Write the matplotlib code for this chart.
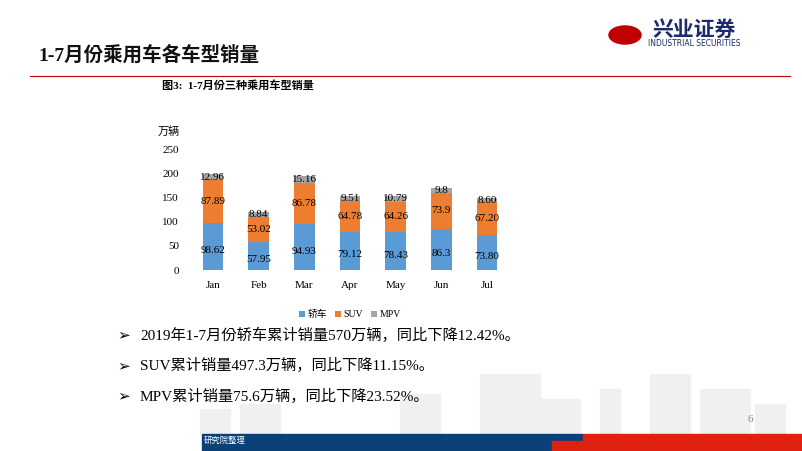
import matplotlib
matplotlib.use("Agg")
import matplotlib.pyplot as plt
from matplotlib.patches import Rectangle
from matplotlib import font_manager as fm
import glob

months = ["Jan", "Feb", "Mar", "Apr", "May", "Jun", "Jul"]
sedan = [98.62, 57.95, 94.93, 79.12, 78.43, 86.3, 73.80]
suv = [87.89, 53.02, 86.78, 64.78, 64.26, 73.9, 67.20]
mpv = [12.96, 8.84, 15.16, 9.51, 10.79, 9.8, 8.60]
sedan_lbl = ["98.62", "57.95", "94.93", "79.12", "78.43", "86.3", "73.80"]
suv_lbl = ["87.89", "53.02", "86.78", "64.78", "64.26", "73.9", "67.20"]
mpv_lbl = ["12.96", "8.84", "15.16", "9.51", "10.79", "9.8", "8.60"]
yticks = [0, 50, 100, 150, 200, 250]
bullets = ["2019年1-7月份轿车累计销量570万辆，同比下降12.42%。",
           "SUV累计销量497.3万辆，同比下降11.15%。",
           "MPV累计销量75.6万辆，同比下降23.52%。"]

for f in glob.glob("/usr/share/fonts/**/*CJK*", recursive=True) + \
         glob.glob("/usr/local/share/fonts/**/*CJK*", recursive=True):
    try:
        fm.fontManager.addfont(f)
    except Exception:
        pass
names = sorted({f.name for f in fm.fontManager.ttflist if "CJK" in f.name})
CJK = "Noto Sans CJK SC" if "Noto Sans CJK SC" in names else (names[0] if names else "DejaVu Sans")
SER = "Liberation Serif"
plt.rcParams["font.family"] = [SER, CJK]

W, H = 802, 451
fig = plt.figure(figsize=(W/100, H/100), dpi=100)

def fx(x): return x / W
def fy(y): return 1 - y / H
CF = [SER, CJK]

fig.text(fx(38), fy(55), "1-7月份乘用车各车型销量", fontsize=14, fontweight="bold",
         family=CF, va="center", color="#111111")
fig.add_artist(plt.Line2D([fx(30), fx(790)], [fy(76), fy(76)], color="#c00000", lw=0.8))
fig.text(fx(694), fy(29), "兴业证券", fontsize=15, fontweight="bold", family=CJK,
         va="center", ha="center", color="#1a2a6c")
fig.text(fx(694), fy(44), "INDUSTRIAL SECURITIES", fontsize=5.5, family="DejaVu Sans",
         va="center", ha="center", color="#1a2a6c")
fig.add_artist(plt.Circle((fx(625), fy(35)), 0.02, transform=fig.transFigure, color="#c00000"))
fig.text(fx(162), fy(85), "图3:  1-7月份三种乘用车型销量", fontsize=8, fontweight="bold",
         family=CF, va="center")

for (x0, w0, h0) in [(200, 30, 25), (240, 40, 30), (400, 40, 40), (480, 60, 60),
                     (540, 40, 35), (600, 20, 45), (650, 40, 60), (700, 50, 45), (755, 30, 30)]:
    fig.add_artist(Rectangle((fx(x0), fy(434)), fx(w0), h0/H, transform=fig.transFigure,
                             color="#f0f0f0", zorder=-5))

ax = fig.add_axes([fx(190), fy(270), fx(320), 120/H])
x = range(len(months))
w = 0.45
c1, c2, c3 = "#5B9BD5", "#ED7D31", "#A5A5A5"
ax.bar(x, sedan, w, color=c1, label="轿车")
ax.bar(x, suv, w, bottom=sedan, color=c2, label="SUV")
bot3 = [a + b for a, b in zip(sedan, suv)]
ax.bar(x, mpv, w, bottom=bot3, color=c3, label="MPV")
for i in x:
    ax.text(i, sedan[i]/2 - 8, sedan_lbl[i], ha="center", va="center", fontsize=8, family=SER)
    ax.text(i, sedan[i] + suv[i]/2, suv_lbl[i], ha="center", va="center", fontsize=8, family=SER)
    ax.text(i, bot3[i] + mpv[i]/2, mpv_lbl[i], ha="center", va="center", fontsize=8, family=SER)
ax.set_xlim(-0.5, 6.5)
ax.set_ylim(0, 250)
ax.set_yticks(yticks)
ax.set_xticks(list(x))
ax.set_xticklabels(months, family=SER, fontsize=8)
for lab in ax.get_yticklabels():
    lab.set_family(SER); lab.set_fontsize(8)
for s in ax.spines.values():
    s.set_visible(False)
ax.tick_params(length=0, pad=8)
ax.text(-0.1, 1.15, "万辆", transform=ax.transAxes, fontsize=8, family=CJK, va="center")
ax.legend(loc="center", bbox_to_anchor=(0.5, -0.37), ncol=3, frameon=False,
          prop={"family": CF, "size": 7}, handlelength=0.6, handleheight=0.6,
          columnspacing=0.8, handletextpad=0.3)

for i, t in enumerate(bullets):
    y = 335 + i * 30.5
    fig.text(fx(117), fy(y), "➢", fontsize=11, family="DejaVu Sans", va="center")
    fig.text(fx(140), fy(y), t, fontsize=11, family=CF, va="center")

fig.text(fx(748), fy(420), "6", fontsize=8, color="#888888", va="center")
blue, red = "#0b4079", "#e02010"
fig.add_artist(Rectangle((fx(202), 0), fx(381), 17/H, transform=fig.transFigure, color=blue))
fig.add_artist(Rectangle((fx(583), 0), fx(219), 17/H, transform=fig.transFigure, color=red))
fig.add_artist(Rectangle((fx(552), 0), fx(31), 10/H, transform=fig.transFigure, color=red))
fig.text(fx(204), fy(441), "研究院整理", fontsize=6, family=CF, va="center", color="white")

fig.savefig("out.png", dpi=100)
